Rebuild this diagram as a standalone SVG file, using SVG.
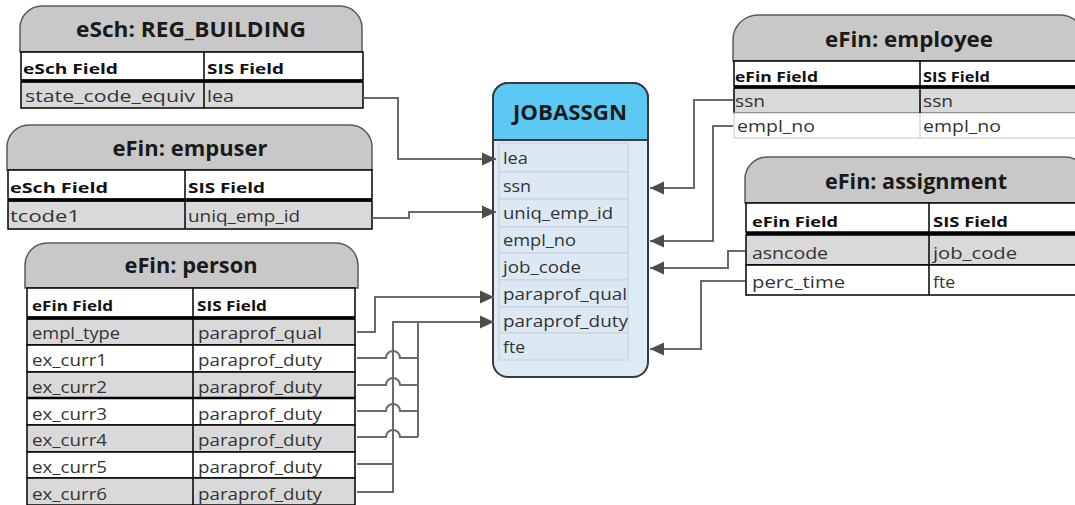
<svg xmlns="http://www.w3.org/2000/svg" width="1075" height="505" viewBox="0 0 1075 505">
<style>
.tab{fill:#c8c8c8;stroke:#595959;stroke-width:1.5}
.hd{fill:#ffffff;stroke:#000;stroke-width:1.5}
.g{fill:#d9d9d9;stroke:#000;stroke-width:1.5}
.w{fill:#ffffff;stroke:#000;stroke-width:1.5}
.wl{fill:#ffffff;stroke:#cfcfcf;stroke-width:1.2}
.div{stroke:#000;stroke-width:1.5}
.thick{stroke:#000;stroke-width:3}
.title{font-family:"Open Sans","Liberation Sans",sans-serif;font-weight:bold;font-size:21px;fill:#1a1a1a;text-anchor:middle}
.ch{font-family:"Open Sans","Liberation Sans",sans-serif;font-weight:bold;font-size:15px;fill:#111}
.t{font-family:"Open Sans","Liberation Sans",sans-serif;font-size:16px;fill:#333}
.conn{fill:none;stroke:#6a6a6a;stroke-width:2}
.row{fill:#dce9f5;stroke:#c9d2db;stroke-width:1.2}
</style>
<defs>
<marker id="arr" markerUnits="userSpaceOnUse" markerWidth="14" markerHeight="14" refX="14" refY="7" orient="auto">
<path d="M0,0.5 L14,7 L0,13.5 Z" fill="#4d4d4d"/>
</marker>
</defs>

<g id="node-reg-building">
<path class="tab" d="M20,52 V28 A22,22 0 0 1 42,6 H340 A22,22 0 0 1 362,28 V52 Z"/>
<rect class="hd" x="21" y="52" width="342" height="28"/>
<rect class="g" x="21" y="82" width="342" height="26"/>
<line class="thick" x1="21" y1="81" x2="363" y2="81"/>
<line class="div" x1="204" y1="52" x2="204" y2="108"/>
<text class="title" x="191" y="37" textLength="230" lengthAdjust="spacingAndGlyphs">eSch: REG_BUILDING</text>
<text class="ch" x="23" y="74" textLength="95" lengthAdjust="spacingAndGlyphs">eSch Field</text>
<text class="ch" x="207" y="74" textLength="77" lengthAdjust="spacingAndGlyphs">SIS Field</text>
<text class="t" x="25" y="102" textLength="170" lengthAdjust="spacingAndGlyphs">state_code_equiv</text>
<text class="t" x="207" y="102" textLength="27" lengthAdjust="spacingAndGlyphs">lea</text>
</g>

<g id="node-empuser">
<path class="tab" d="M7,170 V147 A22,22 0 0 1 29,125 H350 A22,22 0 0 1 372,147 V170 Z"/>
<rect class="hd" x="8" y="170" width="364" height="29"/>
<rect class="g" x="8" y="201" width="364" height="28"/>
<line class="thick" x1="8" y1="200" x2="372" y2="200"/>
<line class="div" x1="185" y1="170" x2="185" y2="229"/>
<text class="title" x="190" y="156" textLength="155" lengthAdjust="spacingAndGlyphs">eFin: empuser</text>
<text class="ch" x="10" y="193" textLength="98" lengthAdjust="spacingAndGlyphs">eSch Field</text>
<text class="ch" x="188" y="193" textLength="77" lengthAdjust="spacingAndGlyphs">SIS Field</text>
<text class="t" x="10" y="222" textLength="70" lengthAdjust="spacingAndGlyphs">tcode1</text>
<text class="t" x="188" y="222" textLength="112" lengthAdjust="spacingAndGlyphs">uniq_emp_id</text>
</g>

<g id="node-person">
<path class="tab" d="M25,288 V265 A22,22 0 0 1 47,243 H336 A22,22 0 0 1 358,265 V288 Z"/>
<rect class="hd" x="27" y="288" width="328" height="29"/>
<rect class="g" x="27" y="319" width="328" height="26"/>
<rect class="w" x="27" y="345" width="328" height="27"/>
<rect class="g" x="27" y="372" width="328" height="26"/>
<rect class="w" x="27" y="398" width="328" height="27"/>
<rect class="g" x="27" y="425" width="328" height="27"/>
<rect class="w" x="27" y="452" width="328" height="26"/>
<rect class="g" x="27" y="478" width="328" height="27"/>
<line class="thick" x1="27" y1="318" x2="355" y2="318"/>
<line x1="27" y1="398" x2="355" y2="398" stroke="#000" stroke-width="2.5"/>
<line class="div" x1="193" y1="288" x2="193" y2="505"/>
<text class="title" x="191" y="273" textLength="133" lengthAdjust="spacingAndGlyphs">eFin: person</text>
<text class="ch" x="32" y="311" textLength="81" lengthAdjust="spacingAndGlyphs">eFin Field</text>
<text class="ch" x="197" y="311" textLength="70" lengthAdjust="spacingAndGlyphs">SIS Field</text>
<text class="t" x="32" y="339" textLength="88" lengthAdjust="spacingAndGlyphs">empl_type</text>
<text class="t" x="198" y="339" textLength="124" lengthAdjust="spacingAndGlyphs">paraprof_qual</text>
<text class="t" x="32" y="366" textLength="75" lengthAdjust="spacingAndGlyphs">ex_curr1</text>
<text class="t" x="198" y="366" textLength="124" lengthAdjust="spacingAndGlyphs">paraprof_duty</text>
<text class="t" x="32" y="393" textLength="75" lengthAdjust="spacingAndGlyphs">ex_curr2</text>
<text class="t" x="198" y="393" textLength="124" lengthAdjust="spacingAndGlyphs">paraprof_duty</text>
<text class="t" x="32" y="420" textLength="75" lengthAdjust="spacingAndGlyphs">ex_curr3</text>
<text class="t" x="198" y="420" textLength="124" lengthAdjust="spacingAndGlyphs">paraprof_duty</text>
<text class="t" x="32" y="446" textLength="75" lengthAdjust="spacingAndGlyphs">ex_curr4</text>
<text class="t" x="198" y="446" textLength="124" lengthAdjust="spacingAndGlyphs">paraprof_duty</text>
<text class="t" x="32" y="473" textLength="75" lengthAdjust="spacingAndGlyphs">ex_curr5</text>
<text class="t" x="198" y="473" textLength="124" lengthAdjust="spacingAndGlyphs">paraprof_duty</text>
<text class="t" x="32" y="500" textLength="75" lengthAdjust="spacingAndGlyphs">ex_curr6</text>
<text class="t" x="198" y="500" textLength="124" lengthAdjust="spacingAndGlyphs">paraprof_duty</text>
</g>

<g id="node-jobassgn">
<rect x="493" y="83" width="155" height="294" rx="15" fill="#ddebf7" stroke="#3a3a3a" stroke-width="2"/>
<path d="M493,140 V98 A15,15 0 0 1 508,83 H633 A15,15 0 0 1 648,98 V140 Z" fill="#5bc9f4" stroke="#3a3a3a" stroke-width="2"/>
<rect class="row" x="499" y="143" width="129" height="29"/>
<rect class="row" x="499" y="172" width="129" height="27"/>
<rect class="row" x="499" y="199" width="129" height="28"/>
<rect class="row" x="499" y="227" width="129" height="26"/>
<rect class="row" x="499" y="253" width="129" height="27"/>
<rect class="row" x="499" y="280" width="129" height="27"/>
<rect class="row" x="499" y="307" width="129" height="26"/>
<rect class="row" x="499" y="333" width="129" height="27"/>
<text class="title" x="570" y="120" textLength="114" lengthAdjust="spacingAndGlyphs">JOBASSGN</text>
<text class="t" x="503" y="164" textLength="25" lengthAdjust="spacingAndGlyphs">lea</text>
<text class="t" x="503" y="192" textLength="28" lengthAdjust="spacingAndGlyphs">ssn</text>
<text class="t" x="503" y="219" textLength="110" lengthAdjust="spacingAndGlyphs">uniq_emp_id</text>
<text class="t" x="503" y="246" textLength="73" lengthAdjust="spacingAndGlyphs">empl_no</text>
<text class="t" x="503" y="273" textLength="78" lengthAdjust="spacingAndGlyphs">job_code</text>
<text class="t" x="503" y="300" textLength="124" lengthAdjust="spacingAndGlyphs">paraprof_qual</text>
<text class="t" x="503" y="327" textLength="125" lengthAdjust="spacingAndGlyphs">paraprof_duty</text>
<text class="t" x="503" y="353" textLength="22" lengthAdjust="spacingAndGlyphs">fte</text>
</g>

<g id="node-employee">
<path class="tab" d="M733,61 V40 A25,25 0 0 1 758,15 H1060 A25,25 0 0 1 1085,40 V61 Z"/>
<rect class="hd" x="734" y="61" width="352" height="25"/>
<rect class="g" x="734" y="88" width="352" height="25"/>
<rect class="wl" x="734" y="113" width="352" height="25"/>
<line class="thick" x1="734" y1="87" x2="1086" y2="87"/>
<line class="div" x1="920" y1="61" x2="920" y2="113"/>
<line x1="920" y1="113" x2="920" y2="138" stroke="#cfcfcf" stroke-width="1.2"/>
<text class="title" x="909" y="47" textLength="168" lengthAdjust="spacingAndGlyphs">eFin: employee</text>
<text class="ch" x="735" y="82" textLength="83" lengthAdjust="spacingAndGlyphs">eFin Field</text>
<text class="ch" x="923" y="82" textLength="67" lengthAdjust="spacingAndGlyphs">SIS Field</text>
<text class="t" x="735" y="107" textLength="30" lengthAdjust="spacingAndGlyphs">ssn</text>
<text class="t" x="923" y="107" textLength="30" lengthAdjust="spacingAndGlyphs">ssn</text>
<text class="t" x="737" y="132" textLength="78" lengthAdjust="spacingAndGlyphs">empl_no</text>
<text class="t" x="923" y="132" textLength="78" lengthAdjust="spacingAndGlyphs">empl_no</text>
</g>

<g id="node-assignment">
<path class="tab" d="M745,203 V179 A22,22 0 0 1 767,157 H1065 A22,22 0 0 1 1087,179 V203 Z"/>
<rect class="hd" x="746" y="203" width="341" height="29"/>
<rect class="g" x="746" y="235" width="341" height="30"/>
<rect class="w" x="746" y="265" width="341" height="30"/>
<line class="thick" x1="746" y1="233.5" x2="1087" y2="233.5"/>
<line class="div" x1="929" y1="203" x2="929" y2="295"/>
<text class="title" x="916" y="189" textLength="182" lengthAdjust="spacingAndGlyphs">eFin: assignment</text>
<text class="ch" x="752" y="227" textLength="86" lengthAdjust="spacingAndGlyphs">eFin Field</text>
<text class="ch" x="933" y="227" textLength="75" lengthAdjust="spacingAndGlyphs">SIS Field</text>
<text class="t" x="752" y="259" textLength="76" lengthAdjust="spacingAndGlyphs">asncode</text>
<text class="t" x="933" y="259" textLength="84" lengthAdjust="spacingAndGlyphs">job_code</text>
<text class="t" x="752" y="288" textLength="93" lengthAdjust="spacingAndGlyphs">perc_time</text>
<text class="t" x="933" y="288" textLength="22" lengthAdjust="spacingAndGlyphs">fte</text>
</g>

<g id="connectors">
<path class="conn" d="M363,98 H398 V159 H496" marker-end="url(#arr)"/>
<path class="conn" d="M372,218 H409 V212 H496" marker-end="url(#arr)"/>
<path class="conn" d="M357,332 H375 V297 H494" marker-end="url(#arr)"/>
<path class="conn" d="M393,493 V322 H494" marker-end="url(#arr)"/>
<path class="conn" d="M418,437 V322"/>
<path class="conn" d="M357,358 H386 A7,7 0 0 1 400,358 H418"/>
<path class="conn" d="M357,385 H386 A7,7 0 0 1 400,385 H418"/>
<path class="conn" d="M357,411 H386 A7,7 0 0 1 400,411 H418"/>
<path class="conn" d="M357,437 H386 A7,7 0 0 1 400,437 H418"/>
<path class="conn" d="M357,464 H393"/>
<path class="conn" d="M357,492 H393"/>
<path class="conn" d="M733,100 H694 V188 H650" marker-end="url(#arr)"/>
<path class="conn" d="M733,126 H713 V241 H650" marker-end="url(#arr)"/>
<path class="conn" d="M745,251 H728 V268 H650" marker-end="url(#arr)"/>
<path class="conn" d="M745,281 H701 V349 H650" marker-end="url(#arr)"/>
</g>
</svg>
